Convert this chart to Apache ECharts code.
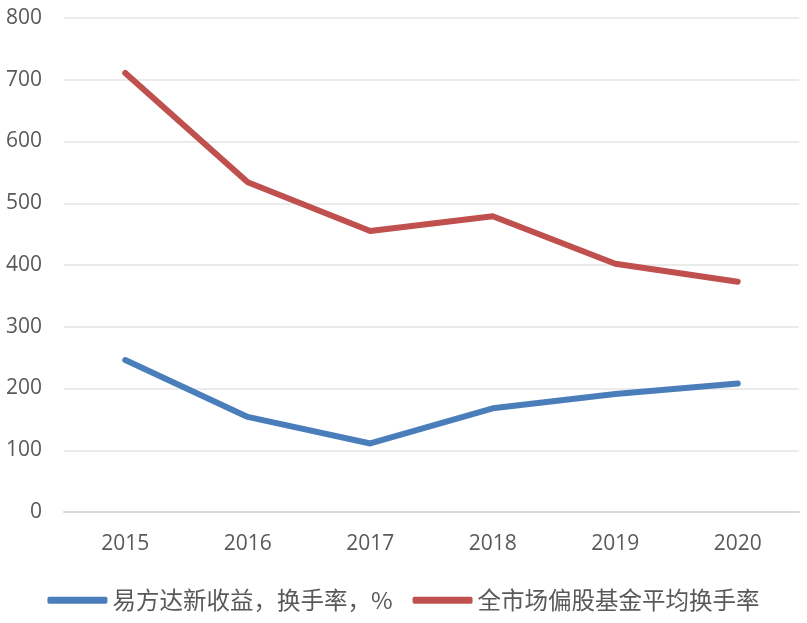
<!DOCTYPE html>
<html>
<head>
<meta charset="utf-8">
<script src="https://cdn.jsdelivr.net/npm/echarts@6/dist/echarts.min.js"></script>
<style>
  html, body { margin: 0; padding: 0; background: #fff; }
  #chart { width: 807px; height: 623px; }
</style>
</head>
<body>
<div id="chart"></div>
<script>
var years = ['2015', '2016', '2017', '2018', '2019', '2020'];
var efundTurnover = [246, 154, 111, 168, 191, 208];
var marketTurnover = [711, 534, 455, 479, 402, 373];
var seriesNames = ['易方达新收益，换手率，%', '全市场偏股基金平均换手率'];

var chart = echarts.init(document.getElementById('chart'));

var option = {
    backgroundColor: '#fff',
    animation: false,
    grid: {
        left: 64,
        right: 8,
        top: 18,
        bottom: 111
    },
    legend: {
        bottom: 6,
        left: 'center',
        itemWidth: 60,
        itemHeight: 7,
        itemGap: 20,
        icon: 'roundRect',
        textStyle: {
            fontFamily: 'Noto Sans CJK SC',
            fontSize: 23.5,
            color: '#595959'
        },
        data: seriesNames
    },
    xAxis: {
        type: 'category',
        data: years,
        boundaryGap: true,
        axisLine: { lineStyle: { color: '#d9d9d9', width: 2 } },
        axisTick: { show: false },
        axisLabel: {
            margin: 22,
            fontSize: 21,
            fontFamily: 'Open Sans',
            color: '#595959'
        }
    },
    yAxis: {
        type: 'value',
        min: 0,
        max: 800,
        interval: 100,
        axisLine: { show: false },
        axisTick: { show: false },
        splitLine: { lineStyle: { color: '#ebebeb', width: 2 } },
        axisLabel: {
            margin: 22,
            fontSize: 21,
            fontFamily: 'Open Sans',
            color: '#595959'
        }
    },
    series: [
        {
            name: seriesNames[0],
            type: 'line',
            data: efundTurnover,
            symbol: 'none',
            color: '#4a7ebb',
            lineStyle: { width: 6, cap: 'round', join: 'round' }
        },
        {
            name: seriesNames[1],
            type: 'line',
            data: marketTurnover,
            symbol: 'none',
            color: '#c0504d',
            lineStyle: { width: 6, cap: 'round', join: 'round' }
        }
    ]
};

chart.setOption(option);
</script>
</body>
</html>
